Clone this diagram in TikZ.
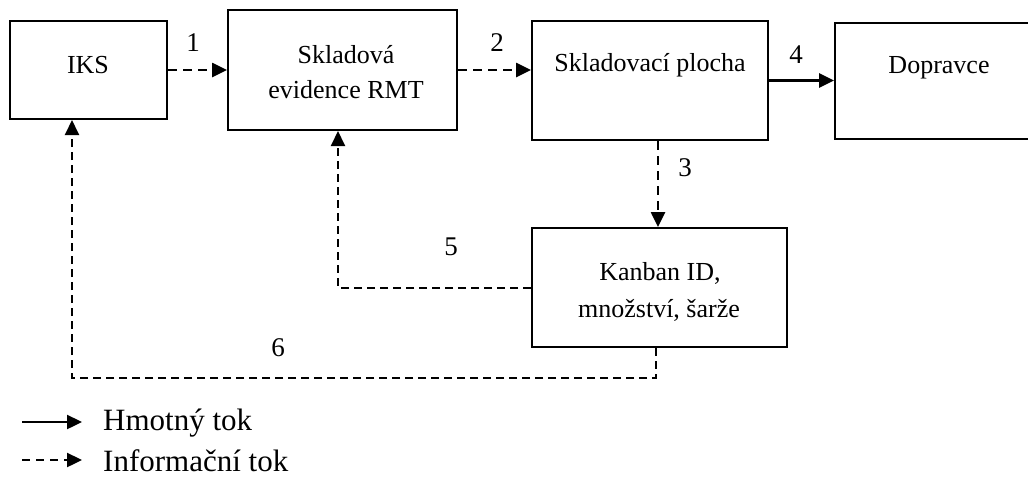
\documentclass[tikz,border=0pt]{standalone}
\usepackage{fontspec}
\setmainfont{Liberation Serif}
\usetikzlibrary{arrows.meta,calc}

\begin{document}
\begin{tikzpicture}[x=1pt,y=-1pt,
  box/.style={draw,line width=2pt,rectangle,inner sep=0pt},
  txt/.style={inner sep=0pt,font=\fontsize{26}{30}\selectfont},
  num/.style={inner sep=0pt,font=\fontsize{27}{30}\selectfont},
  leg/.style={inner sep=0pt,anchor=west,font=\fontsize{31}{34}\selectfont},
  tip/.style={-{Triangle[length=15pt,width=14pt]}},
  matflow/.style={tip,line width=2.6pt},
  infoflow/.style={tip,line width=2.6pt,dash pattern=on 9pt off 6pt},
  infoline/.style={tip,line width=2pt,dash pattern=on 8pt off 5pt}]

\useasboundingbox (0,0) rectangle (1028,491);

% process boxes
\node[box,minimum width=157pt,minimum height=98pt]  (iks) at (88.5,70) {};
\node[box,minimum width=229pt,minimum height=120pt] (ser) at (342.5,70) {};
\node[box,minimum width=236pt,minimum height=119pt] (sp)  at (650,80.5) {};
\node[box,minimum width=200pt,minimum height=116pt] (dop) at (935,81) {};
\node[box,minimum width=255pt,minimum height=119pt] (kan) at (659.5,287.5) {};

% box texts
\node[txt] (tiks) at (88,65)  {IKS};
\node[txt] (tser1) at (346,55) {Skladová};
\node[txt] (tser2) at (346,90) {evidence RMT};
\node[txt] (tsp)  at (650,65)  {Skladovací plocha};
\node[txt] (tdop) at (939,68)  {Dopravce};
\node[txt] (tkan1) at (660,273) {Kanban ID,};
\node[txt] (tkan2) at (659,310) {množství, šarže};

% flows
\draw[infoflow] (iks.east) -- (iks.east -| ser.west);
\draw[infoflow] (ser.east) -- (ser.east -| sp.west);
\draw[matflow]  (sp.east) -- (sp.east -| dop.west);
\draw[infoflow] ([xshift=8pt]sp.south) -- ([xshift=8pt]sp.south |- kan.north);
\draw[infoline] (kan.west) -| ([xshift=-4.5pt]ser.south);
\coordinate (c6) at (72,378);
\draw[infoline] ([xshift=-3.5pt]kan.south) |- (c6) -- (c6 |- iks.south);

% flow numbers
\node[num] (n1) at (193,43)  {1};
\node[num] (n2) at (497,43)  {2};
\node[num] (n4) at (796,55)  {4};
\node[num] (n3) at (685,168) {3};
\node[num] (n5) at (451,247) {5};
\node[num] (n6) at (278,348) {6};

% legend
\coordinate (l1a) at (22,422);
\coordinate (l1b) at (82,422);
\coordinate (l2a) at (22,460);
\coordinate (l2b) at (82,460);
\draw[tip,line width=2.4pt] (l1a) -- (l1b);
\draw[tip,line width=2.4pt,dash pattern=on 8pt off 6pt] (l2a) -- (l2b);
\node[leg] (lg1) at (103,423) {Hmotný tok};
\node[leg] (lg2) at (103,461) {Informační tok};
\end{tikzpicture}
\end{document}
